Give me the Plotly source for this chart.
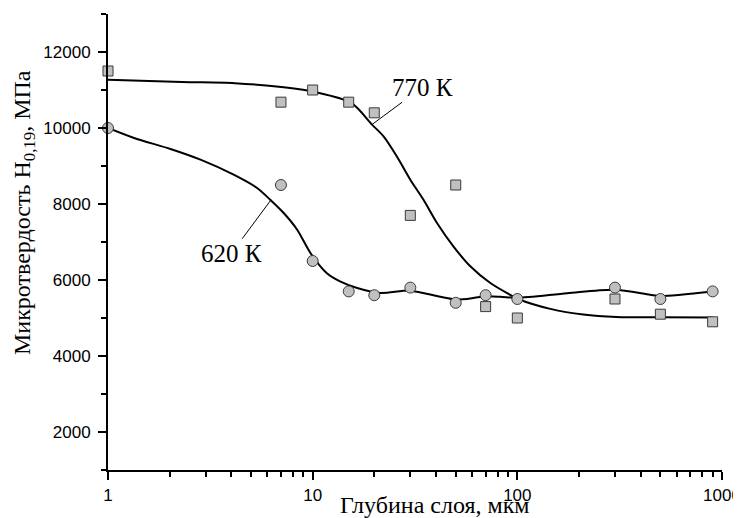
import plotly.graph_objects as go

# measured points
depth = [1, 7, 10, 15, 20, 30, 50, 70, 100, 300, 500, 900]
hv_620 = [10000, 8500, 6500, 5700, 5600, 5800, 5400, 5600, 5500, 5800, 5500, 5700]
hv_770 = [11500, 10680, 11000, 10680, 10400, 7700, 8500, 5300, 5000, 5500, 5100, 4900]

# fitted curves
fit_620_x = [1, 1.34, 2.02, 2.83, 4.11, 5.35, 6.2, 7.22, 8.4, 9.75, 11.7, 13.6, 16.5,
             21.4, 30, 42, 50, 57, 68.5, 82.5, 100, 175, 298, 445, 500, 900]
fit_620_y = [10000, 9737, 9447, 9166, 8771, 8421, 8113, 7763, 7324, 6711, 6184, 5963, 5790,
             5658, 5720, 5560, 5490, 5500, 5568, 5560, 5530, 5650, 5745, 5613, 5580, 5700]
fit_770_x = [1, 2.3, 4.16, 7.22, 10.4, 15.5, 19.5, 22.2, 25.8, 30, 34.8, 40.5, 48.8, 58.9,
             73.8, 92.3, 103, 145, 210, 306, 500, 900]
fit_770_y = [11270, 11210, 11180, 11070, 10940, 10655, 10090, 9780, 9250, 8640, 8110, 7500,
             6880, 6360, 5920, 5610, 5480, 5240, 5090, 5026, 5018, 5016]

x_ticks = [1, 10, 100, 1000]
x_tick_text = ["1", "10", "100", "1000"]

FILL = "#c0c0c0"
EDGE = "#3a3a3a"

fig = go.Figure()
fig.add_trace(go.Scatter(x=fit_620_x, y=fit_620_y, mode="lines",
                         line=dict(color="black", width=2, shape="spline", smoothing=0.8),
                         hoverinfo="skip", showlegend=False))
fig.add_trace(go.Scatter(x=fit_770_x, y=fit_770_y, mode="lines",
                         line=dict(color="black", width=2, shape="spline", smoothing=0.8),
                         hoverinfo="skip", showlegend=False))
fig.add_trace(go.Scatter(x=depth, y=hv_770, mode="markers", name="770 К",
                         marker=dict(symbol="square", size=10, color=FILL,
                                     line=dict(color=EDGE, width=1)),
                         cliponaxis=False, showlegend=False))
fig.add_trace(go.Scatter(x=depth, y=hv_620, mode="markers", name="620 К",
                         marker=dict(symbol="circle", size=11, color=FILL,
                                     line=dict(color=EDGE, width=1)),
                         cliponaxis=False, showlegend=False))

serif = "Liberation Serif, Times New Roman, serif"
sans = "Liberation Sans, Arial, sans-serif"

fig.add_annotation(x=1.292, y=10100, xref="x", yref="y", text="770 К",
                   showarrow=True, arrowhead=0, arrowwidth=1, arrowcolor="black",
                   ax=50, ay=-37, font=dict(family=serif, size=25, color="black"))
fig.add_annotation(x=0.797, y=8113, xref="x", yref="y", text="620 К",
                   showarrow=True, arrowhead=0, arrowwidth=1, arrowcolor="black",
                   ax=-40, ay=54, font=dict(family=serif, size=25, color="black"))

# axis titles
fig.add_annotation(xref="paper", yref="paper", x=0.533, y=0, yshift=-35,
                   xanchor="center", yanchor="middle", showarrow=False,
                   text="Глубина слоя, мкм", font=dict(family=serif, size=24, color="black"))
fig.add_annotation(xref="paper", yref="paper", x=0, xshift=-84, y=0.5636,
                   xanchor="center", yanchor="middle", showarrow=False, textangle=-90,
                   text="Микротвердость H<sub>0,19</sub>, МПа",
                   font=dict(family=serif, size=24, color="black"))

# the page body adds an 8 px offset, so the figure is 8 px smaller than the window
fig.update_layout(
    width=733, height=510,
    margin=dict(l=100, r=19, t=6, b=48, autoexpand=False),
    paper_bgcolor="white", plot_bgcolor="white",
    showlegend=False,
)
fig.update_xaxes(type="log", range=[0, 3], tickvals=x_ticks, ticktext=x_tick_text,
                 automargin=False, ticklabelstandoff=1,
                 showgrid=False, zeroline=False, showline=True, linecolor="black", linewidth=2,
                 ticks="outside", ticklen=8, tickwidth=2, tickcolor="black",
                 tickfont=dict(family=sans, size=17, color="black"),
                 minor=dict(ticks="outside", ticklen=5, tickwidth=1.5, tickcolor="black",
                            dtick="D1", showgrid=False))
fig.update_yaxes(range=[1000, 13000], tick0=0, dtick=2000, tickformat="d",
                 automargin=False, ticklabelstandoff=4,
                 showgrid=False, zeroline=False, showline=True, linecolor="black", linewidth=2,
                 ticks="outside", ticklen=8, tickwidth=2, tickcolor="black",
                 tickfont=dict(family=sans, size=17, color="black"),
                 minor=dict(ticks="outside", ticklen=5, tickwidth=1.5, tickcolor="black",
                            dtick=1000, showgrid=False))

fig.write_html("out.html")
